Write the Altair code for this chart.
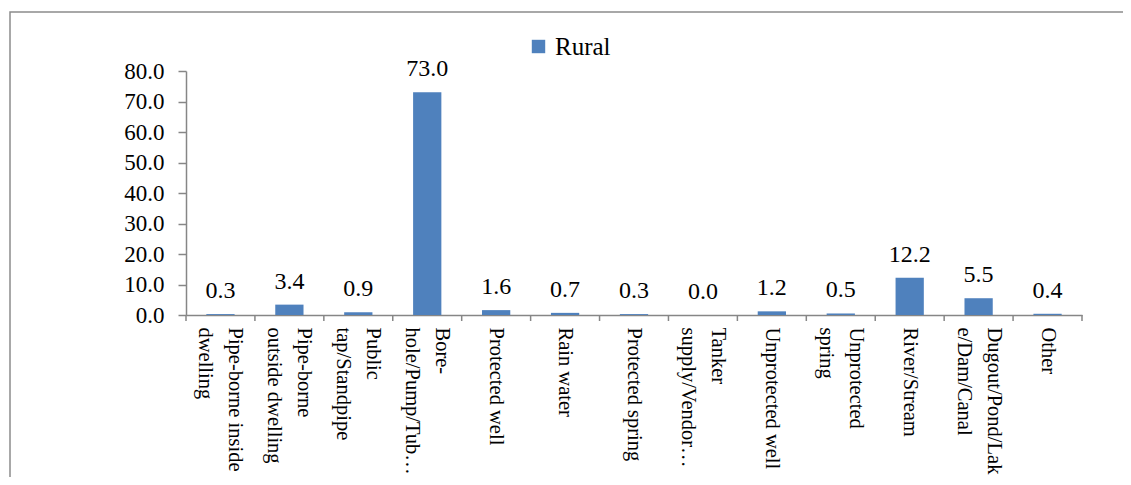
import altair as alt
import pandas as pd

categories = [
    "Pipe-borne inside dwelling",
    "Pipe-borne outside dwelling",
    "Public tap/Standpipe",
    "Bore-hole/Pump/Tub…",
    "Protected well",
    "Rain water",
    "Protected spring",
    "Tanker supply/Vendor…",
    "Unprotected well",
    "Unprotected spring",
    "River/Stream",
    "Dugout/Pond/Lake/Dam/Canal",
    "Other",
]
tick_labels = [
    "Pipe-borne inside|dwelling",
    "Pipe-borne|outside dwelling",
    "Public|tap/Standpipe",
    "Bore-|hole/Pump/Tub…",
    "Protected well",
    "Rain water",
    "Protected spring",
    "Tanker|supply/Vendor…",
    "Unprotected well",
    "Unprotected|spring",
    "River/Stream",
    "Dugout/Pond/Lak|e/Dam/Canal",
    "Other",
]
rural = [0.3, 3.4, 0.9, 73.0, 1.6, 0.7, 0.3, 0.0, 1.2, 0.5, 12.2, 5.5, 0.4]
series_name = "Rural"
y_ticks = [0, 10, 20, 30, 40, 50, 60, 70, 80]

df = pd.DataFrame({"cat": tick_labels, "value": rural, "series": series_name})

W, H = 896, 244
FONT = "'Liberation Serif', 'Times New Roman', Times, serif"
GRAY = "#868686"
BLUE = "#4F81BD"

x_axis = alt.Axis(
    title=None,
    ticks=False,
    domainColor=GRAY,
    domainWidth=1.5,
    labelAngle=90,
    labelAlign="left",
    labelBaseline="middle",
    labelPadding=12,
    labelFont=FONT,
    labelFontSize=20.5,
    labelLineHeight=30,
    labelColor="black",
    labelLimit=300,
    labelOverlap=False,
    labelOffset={
        "condition": {"test": "indexof(datum.value, '|') >= 0", "value": 15},
        "value": 0,
    },
    labelExpr="split(datum.label, '|')",
)
y_axis = alt.Axis(
    title=None,
    values=y_ticks,
    format=".1f",
    grid=False,
    domainColor=GRAY,
    domainWidth=1.5,
    tickColor=GRAY,
    tickSize=8,
    tickWidth=1.5,
    labelFont=FONT,
    labelFontSize=23,
    labelColor="black",
    labelPadding=14,
    labelOverlap=False,
    labelSeparation=0,
)
x_scale = alt.Scale(paddingInner=0, paddingOuter=0)
y_scale = alt.Scale(domain=[0, 80], nice=False)

base = alt.Chart(df)

bars = base.mark_bar(width=alt.RelativeBandSize(0.41)).encode(
    x=alt.X("cat:N", sort=tick_labels, scale=x_scale, axis=x_axis),
    y=alt.Y("value:Q", scale=y_scale, axis=y_axis),
    color=alt.Color(
        "series:N",
        scale=alt.Scale(domain=[series_name], range=[BLUE]),
        legend=alt.Legend(
            title=None,
            orient="none",
            legendX=340,
            legendY=-37,
            symbolType="square",
            symbolSize=180,
            symbolStrokeWidth=0,
            labelFont=FONT,
            labelFontSize=25,
            labelColor="black",
            labelOffset=4,
        ),
    ),
)

labels = base.mark_text(
    font=FONT, fontSize=24, color="black", baseline="alphabetic", dy=-16
).encode(
    x=alt.X("cat:N", sort=tick_labels, scale=x_scale, axis=x_axis),
    y=alt.Y("value:Q", scale=y_scale, axis=y_axis),
    text=alt.Text("value:Q", format=".1f"),
)

ticks = base.mark_rule(color=GRAY, strokeWidth=1.5).encode(
    x=alt.X("cat:N", sort=tick_labels, bandPosition=0, scale=x_scale, axis=x_axis),
    y=alt.value(H),
    y2=alt.value(H + 6),
)
last_tick = base.transform_filter(
    alt.datum.cat == tick_labels[-1]
).mark_rule(color=GRAY, strokeWidth=1.5).encode(
    x=alt.X("cat:N", sort=tick_labels, bandPosition=1, scale=x_scale, axis=x_axis),
    y=alt.value(H),
    y2=alt.value(H + 6),
)

frame = alt.Chart(pd.DataFrame({"f": [0]})).mark_rect(
    fill=None, stroke="#8c8c8c", strokeWidth=1.5
).encode(
    x=alt.value(-176),
    x2=alt.value(1000),
    y=alt.value(-59),
    y2=alt.value(520),
)

chart = (
    alt.layer(bars, frame, labels, ticks, last_tick)
    .properties(
        width=W,
        height=H,
        autosize=alt.AutoSizeParams(type="none"),
        padding={"left": 178, "top": 63, "right": 41, "bottom": 162},
    )
    .configure(font=FONT)
    .configure_axisY(labelOverlap=False)
    .configure_view(stroke=None)
)

chart.save("out.html", embed_options={"renderer": "svg", "actions": False})
